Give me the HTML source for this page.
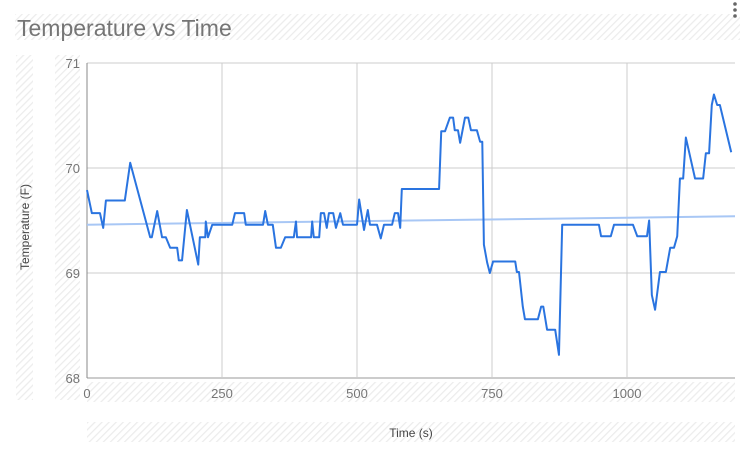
<!DOCTYPE html>
<html><head><meta charset="utf-8"><style>
body{margin:0;background:#fff;width:740px;height:454px;overflow:hidden;font-family:"Liberation Sans",sans-serif}
</style></head><body>
<svg width="740" height="454">
<defs>
<pattern id="hatch" width="5" height="5" patternUnits="userSpaceOnUse" patternTransform="rotate(45)">
<rect width="5" height="5" fill="#fff"/><line x1="0" y1="0" x2="0" y2="5" stroke="#ececec" stroke-width="2.5"/>
</pattern>
</defs>
<rect x="15" y="14" width="725" height="26" fill="url(#hatch)"/>
<rect x="16" y="55" width="17" height="345" fill="url(#hatch)"/>
<rect x="55" y="55" width="25" height="345" fill="url(#hatch)"/>
<rect x="87" y="382" width="648" height="20" fill="url(#hatch)"/>
<rect x="87" y="422" width="648" height="20" fill="url(#hatch)"/>
<text x="17" y="36" font-size="23" fill="#757575">Temperature vs Time</text>
<g fill="#666"><circle cx="735" cy="4" r="1.8"/><circle cx="735" cy="10" r="1.8"/><circle cx="735" cy="16" r="1.8"/></g>
<g id="grid"></g>
<g id="marks"></g>
<text x="0" y="0" transform="translate(29,227) rotate(-90)" text-anchor="middle" font-size="12" fill="#444">Temperature (F)</text>
<text x="411" y="437" text-anchor="middle" font-size="12" fill="#444">Time (s)</text>
</svg>
<script>
const times=[0,9,24,30,35,70,80,117,120,130,139,146,154,163,167,170,176,185,206,209,219,220,224,232,269,274,291,294,326,330,335,344,350,359,367,383,387,389,415,417,420,430,433,439,444,448,456,461,469,474,500,504,513,520,524,537,544,550,565,570,576,580,583,652,656,663,672,678,681,687,691,700,706,711,722,728,732,735,741,746,752,793,796,800,807,811,835,841,845,852,867,874,880,948,952,970,976,1011,1019,1037,1041,1046,1052,1061,1072,1080,1087,1093,1098,1104,1109,1126,1141,1146,1152,1157,1161,1167,1172,1193];
const temps=[69.79,69.57,69.57,69.43,69.69,69.69,70.05,69.34,69.34,69.59,69.34,69.34,69.24,69.24,69.24,69.12,69.12,69.6,69.08,69.34,69.34,69.49,69.34,69.46,69.46,69.57,69.57,69.46,69.46,69.59,69.46,69.46,69.24,69.24,69.34,69.34,69.49,69.34,69.34,69.49,69.34,69.34,69.57,69.57,69.43,69.57,69.57,69.43,69.57,69.46,69.46,69.7,69.41,69.6,69.46,69.46,69.33,69.46,69.46,69.57,69.57,69.43,69.8,69.8,70.35,70.35,70.48,70.48,70.36,70.36,70.24,70.48,70.48,70.36,70.36,70.25,70.25,69.27,69.1,69.0,69.11,69.11,69.01,69.01,68.68,68.56,68.56,68.68,68.68,68.46,68.46,68.22,69.46,69.46,69.35,69.35,69.46,69.46,69.35,69.35,69.5,68.79,68.65,69.01,69.01,69.24,69.24,69.35,69.9,69.9,70.29,69.9,69.9,70.14,70.14,70.6,70.7,70.6,70.6,70.15];
const trendT=[0,1200];
const trendV=[69.46,69.54];
const xTicks=[0,250,500,750,1000];
const yTicks=[68,69,70,71];
const X0=87,X1=735,Y0=378,Y1=63;
const xs=t=>X0+(t-0)/(1200-0)*(X1-X0);
const ys=v=>Y0-(v-68)/(71-68)*(Y0-Y1);
const NS="http://www.w3.org/2000/svg";
const grid=document.getElementById('grid'),marks=document.getElementById('marks');
function mk(tag,attrs,parent){const e=document.createElementNS(NS,tag);for(const k in attrs)e.setAttribute(k,attrs[k]);parent.appendChild(e);return e;}
yTicks.forEach(v=>{
 const l=mk('line',{x1:X0,x2:X1,y1:ys(v),y2:ys(v),stroke:v===68?'#999':'#ccc','stroke-width':1},grid);
 
 
 const t=mk('text',{x:80,y:ys(v)+5,'text-anchor':'end','font-size':13,fill:'#757575'},grid);
 t.textContent=v;
 
 
});
xTicks.forEach(v=>{
 const l=mk('line',{x1:xs(v),x2:xs(v),y1:Y1,y2:Y0,stroke:v===0?'#888':'#ccc','stroke-width':1},grid);
 
 
 const t=mk('text',{x:xs(v),y:398,'text-anchor':'middle','font-size':13,fill:'#757575'},grid);
 t.textContent=v;
 
 
});
const tr=mk('line',{x1:xs(trendT[0]),y1:ys(trendV[0]),x2:xs(trendT[1]),y2:ys(trendV[1]),stroke:'#a8c7f5','stroke-width':2},marks);


const p=mk('polyline',{points:times.map((t,i)=>xs(t)+','+ys(temps[i])).join(' '),fill:'none',stroke:'#2a74e0','stroke-width':2,'stroke-linejoin':'round'},marks);


</script>
</body></html>
